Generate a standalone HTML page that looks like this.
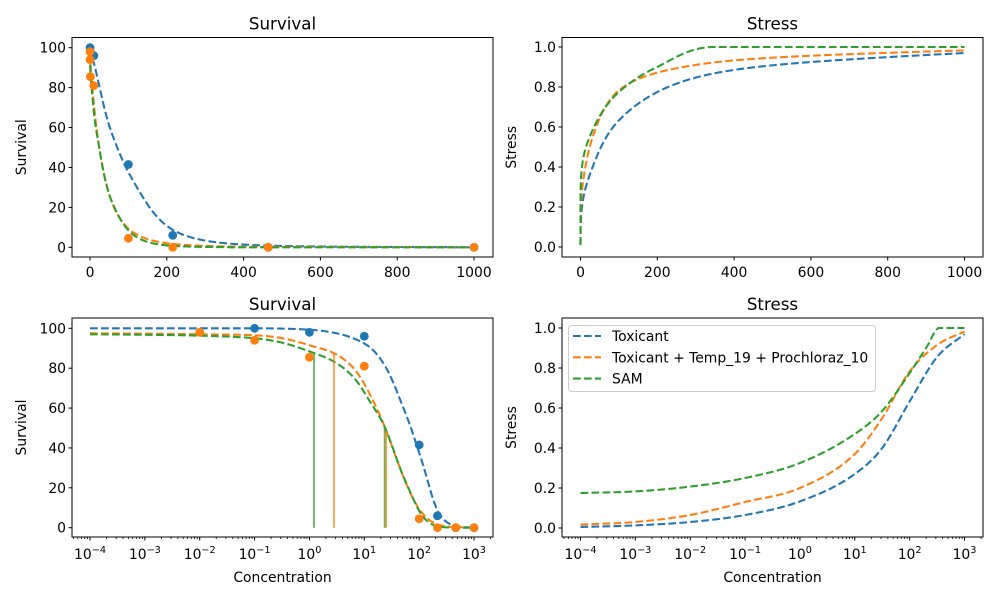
<!DOCTYPE html>
<html><head><meta charset="utf-8">
<style>
html,body{margin:0;padding:0;background:#fff;}
svg{display:block;font-family:"DejaVu Sans","Liberation Sans",sans-serif;}
</style></head>
<body>
<svg id="fig" width="1000" height="600" viewBox="0 0 1000 600"></svg>
<script>
// ---- data ----
const blueConc = [0.1, 1, 10, 100, 215.4, 464.2, 1000];
const blueSurv = [100, 98, 96, 41.5, 6, 0, 0];
const orangeConc = [0.01, 0.1, 1, 10, 100, 215.4, 464.2, 1000];
const orangeSurv = [98, 94, 85.5, 81, 4.5, 0, 0, 0];

const survLogC = [-4, -2, -1, 0, 0.44, 0.80, 1.10, 1.38, 1.65, 1.90, 2.14, 2.38, 2.62, 3];
const survToxicant = [100, 100, 100, 99.3, 97.8, 95, 90.5, 81, 64.4, 46, 25, 6.5, 1.2, 0];
const survCombined = [97.5, 97, 96.5, 91.5, 87.6, 80.1, 67, 50, 30, 14, 4.9, 1.3, 0.3, 0];
const survSAM = [97, 96.3, 95, 88.4, 83.4, 75.5, 63.4, 50, 30, 14, 3.5, 0.5, 0.05, 0];
const survTop = [100.3, 97.8, 97.3];

const stressLogC = [-4, -3, -2, -1, 0, 1, 1.5, 2, 2.5, 3];
const stressToxicant = [0.005, 0.013, 0.03, 0.065, 0.133, 0.27, 0.40, 0.633, 0.855, 0.97];
const stressCombined = [0.017, 0.03, 0.065, 0.13, 0.2, 0.37, 0.55, 0.783, 0.915, 0.983];
const samLogC = [-4, -3, -2, -1, 0, 1, 1.5, 2, 2.3, 2.54, 3];
const stressSAM = [0.175, 0.183, 0.207, 0.25, 0.325, 0.47, 0.585, 0.775, 0.9, 1.0, 1.0];
const zeroConcStress = 0.01;

const lcGreenConc = [1.21, 23.5];
const lcOrangeConc = [2.8, 25];

const survTicks = [0, 20, 40, 60, 80, 100];
const stressTicks = [0, 0.2, 0.4, 0.6, 0.8, 1.0];
const stressTickLabels = ["0.0","0.2","0.4","0.6","0.8","1.0"];
const linTicks = [0, 200, 400, 600, 800, 1000];
const logTicks = [-4, -3, -2, -1, 0, 1, 2, 3];

const C_BLUE = "#1f77b4", C_ORANGE = "#ff7f0e", C_GREEN = "#2ca02c";
const NS = "http://www.w3.org/2000/svg";
const svg = document.getElementById('fig');

function el(tag, attrs, parent) {
  const e = document.createElementNS(NS, tag);
  for (const k in attrs) e.setAttribute(k, attrs[k]);
  (parent || svg).appendChild(e);
  return e;
}

function mono(xs, ys) {
  const n = xs.length, d = [], m = new Array(n);
  for (let i = 0; i < n - 1; i++) d.push((ys[i+1]-ys[i])/(xs[i+1]-xs[i]));
  m[0] = d[0]; m[n-1] = d[n-2];
  for (let i = 1; i < n - 1; i++) m[i] = (d[i-1]*d[i] <= 0) ? 0 : (d[i-1]+d[i])/2;
  for (let i = 0; i < n - 1; i++) {
    if (d[i] === 0) { m[i] = 0; m[i+1] = 0; continue; }
    const a = m[i]/d[i], b = m[i+1]/d[i], s = a*a + b*b;
    if (s > 9) { const t = 3/Math.sqrt(s); m[i] = t*a*d[i]; m[i+1] = t*b*d[i]; }
  }
  return function(x) {
    if (x <= xs[0]) return ys[0];
    if (x >= xs[n-1]) return ys[n-1];
    let i = 0; while (x > xs[i+1]) i++;
    const h = xs[i+1]-xs[i], t = (x-xs[i])/h;
    const h00 = 2*t*t*t-3*t*t+1, h10 = t*t*t-2*t*t+t, h01 = -2*t*t*t+3*t*t, h11 = t*t*t-t*t;
    return h00*ys[i] + h10*h*m[i] + h01*ys[i+1] + h11*h*m[i+1];
  };
}
function logit(p) { p = Math.min(0.9995, Math.max(0.0008, p)); return Math.log(p/(1-p)); }
function expit(z) { return 1/(1+Math.exp(-z)); }
function smoothFn(xs, ys, top) {
  const f = mono(xs, ys.map(v => logit(v/top)));
  return function(x) {
    let p = expit(f(x));
    if (p > 0.9985) p = 1;
    if (p < 0.001) p = 0;
    return Math.min(1, p) * top;
  };
}
function rawFn(xs, ys) {
  const f = mono(xs, ys);
  return x => Math.min(1, Math.max(0, f(x)));
}

const axes = {
  tl: {l:72, r:493, t:37.5, b:257, x: c => 90 + c*0.384, y: v => 247.3 - v*1.996, log:false},
  tr: {l:562, r:983, t:37.5, b:257, x: c => 580.5 + c*0.384, y: v => 247 - v*200, log:false},
  bl: {l:72, r:493, t:318, b:537, x: c => 90 + (Math.log10(c)+4)*54.86, y: v => 527.7 - v*1.994, log:true},
  br: {l:562, r:983, t:318, b:537, x: c => 580.5 + (Math.log10(c)+4)*54.86, y: v => 528 - v*200, log:true}
};

const defs = el('defs', {});
for (const k in axes) {
  const cp = el('clipPath', {id: 'clip-'+k}, defs);
  const a = axes[k];
  el('rect', {x: a.l, y: a.t, width: a.r-a.l, height: a.b-a.t}, cp);
}

function curvePath(ax, fn, isLin, zeroVal) {
  const pts = [];
  if (isLin) {
    const N = 600;
    for (let i = 0; i <= N; i++) {
      const c = 1000*Math.pow(i/N, 2);
      let v;
      if (c === 0) v = (zeroVal !== undefined) ? zeroVal : fn(-4);
      else v = fn(Math.max(-4, Math.log10(c)));
      pts.push([ax.x(c), ax.y(v)]);
    }
  } else {
    const N = 500;
    for (let i = 0; i <= N; i++) {
      const lc = -4 + 7*i/N;
      pts.push([ax.x(Math.pow(10, lc)), ax.y(fn(lc))]);
    }
  }
  return 'M' + pts.map(p => p[0].toFixed(2)+','+p[1].toFixed(2)).join('L');
}

function drawCurve(key, fn, color, name, zeroVal) {
  const ax = axes[key];
  const p = el('path', {d: curvePath(ax, fn, !ax.log, zeroVal), fill:'none', stroke: color,
    'stroke-width': 2.08, 'stroke-dasharray': '7.7 3.3', 'clip-path': 'url(#clip-'+key+')'});
  
  
}

function drawPoints(key, xs, ys, color, name) {
  const ax = axes[key];
  const g = el('g', {'clip-path': 'url(#clip-'+key+')'});
  
  
  for (let i = 0; i < xs.length; i++) {
    const c = el('circle', {cx: ax.x(xs[i]), cy: ax.y(ys[i]), r: 4.4, fill: color}, g);
    
    
  }
}

function text(x, y, s, attrs, name) {
  const t = el('text', Object.assign({x: x, y: y, 'font-size': 13.9, fill: '#000'}, attrs || {}));
  t.textContent = s;
  
  
  return t;
}

function frame(key, title, ylabel, yTicks, yLabels, xlabel) {
  const ax = axes[key];
  const g = el('g', {});
  
  
  el('rect', {x: ax.l, y: ax.t, width: ax.r-ax.l, height: ax.b-ax.t, fill:'none', stroke:'#000', 'stroke-width': 1}, g);
  yTicks.forEach((v, i) => {
    const y = ax.y(v);
    el('line', {x1: ax.l-3.5, x2: ax.l, y1: y, y2: y, stroke:'#000', 'stroke-width': 1}, g);
    text(ax.l-6, y+5, yLabels[i], {'text-anchor':'end'}, 'y-tick-label');
  });
  if (!ax.log) {
    linTicks.forEach(v => {
      const x = ax.x(v);
      el('line', {x1: x, x2: x, y1: ax.b, y2: ax.b+3.5, stroke:'#000', 'stroke-width': 1}, g);
      text(x, ax.b+20, String(v), {'text-anchor':'middle'}, 'x-tick-label');
    });
  } else {
    for (let e = -5; e <= 3; e++) for (let k = 2; k <= 9; k++) {
      const x = ax.x(k*Math.pow(10, e));
      if (x < ax.l || x > ax.r) continue;
      el('line', {x1: x, x2: x, y1: ax.b, y2: ax.b+2, stroke:'#000', 'stroke-width': 0.8}, g);
    }
    logTicks.forEach(e => {
      const x = ax.x(Math.pow(10, e));
      el('line', {x1: x, x2: x, y1: ax.b, y2: ax.b+3.5, stroke:'#000', 'stroke-width': 1}, g);
      const t = text(x, ax.b+22, '', {'text-anchor':'middle'}, 'x-tick-label');
      const a = el('tspan', {}, t); a.textContent = '10';
      const b = el('tspan', {dy: -6, 'font-size': 9.7}, t); b.textContent = (e < 0 ? '\u2212' : '') + Math.abs(e);
    });
  }
  const cx = (ax.l+ax.r)/2;
  text(cx, ax.t-8, title, {'text-anchor':'middle', 'font-size': 16.7}, 'subplot-title');
  const ylx = ax.l - 46;
  const cy = (ax.t+ax.b)/2;
  text(ylx, cy, ylabel, {'text-anchor':'middle', transform: 'rotate(-90 '+ylx+' '+cy+')'}, 'y-axis-title');
  if (xlabel) text(cx, ax.b+45, xlabel, {'text-anchor':'middle'}, 'x-axis-title');
}

const fSurvT = smoothFn(survLogC, survToxicant, survTop[0]);
const fSurvC = smoothFn(survLogC, survCombined, survTop[1]);
const fSurvS = smoothFn(survLogC, survSAM, survTop[2]);
const fStrT = rawFn(stressLogC, stressToxicant);
const fStrC = rawFn(stressLogC, stressCombined);
const fStrS = rawFn(samLogC, stressSAM);

const survLbl = survTicks.map(String);
frame('tl', 'Survival', 'Survival', survTicks, survLbl, null);
frame('tr', 'Stress', 'Stress', stressTicks, stressTickLabels, null);
frame('bl', 'Survival', 'Survival', survTicks, survLbl, 'Concentration');
frame('br', 'Stress', 'Stress', stressTicks, stressTickLabels, 'Concentration');

drawCurve('tl', fSurvT, C_BLUE, 'toxicant-survival-curve');
drawCurve('tl', fSurvC, C_ORANGE, 'combined-survival-curve');
drawCurve('tl', fSurvS, C_GREEN, 'sam-survival-curve');
drawPoints('tl', blueConc, blueSurv, C_BLUE, 'toxicant-observations');
drawPoints('tl', orangeConc, orangeSurv, C_ORANGE, 'combined-observations');

drawCurve('tr', fStrT, C_BLUE, 'toxicant-stress-curve', zeroConcStress);
drawCurve('tr', fStrC, C_ORANGE, 'combined-stress-curve', zeroConcStress);
drawCurve('tr', fStrS, C_GREEN, 'sam-stress-curve', zeroConcStress);

drawCurve('bl', fSurvT, C_BLUE, 'toxicant-survival-curve-log');
drawCurve('bl', fSurvC, C_ORANGE, 'combined-survival-curve-log');
drawCurve('bl', fSurvS, C_GREEN, 'sam-survival-curve-log');
(function(){
  const ax = axes.bl;
  lcGreenConc.forEach(c => {
    const l = el('line', {x1: ax.x(c), x2: ax.x(c), y1: ax.y(0), y2: ax.y(fSurvS(Math.log10(c))), stroke: C_GREEN, 'stroke-opacity': 0.75, 'stroke-width': 1.8});
    
    
  });
  lcOrangeConc.forEach(c => {
    const l = el('line', {x1: ax.x(c), x2: ax.x(c), y1: ax.y(0), y2: ax.y(fSurvC(Math.log10(c))), stroke: C_ORANGE, 'stroke-opacity': 0.75, 'stroke-width': 1.8});
    
    
  });
})();
drawPoints('bl', blueConc, blueSurv, C_BLUE, 'toxicant-observations-log');
drawPoints('bl', orangeConc, orangeSurv, C_ORANGE, 'combined-observations-log');

drawCurve('br', fStrT, C_BLUE, 'toxicant-stress-curve-log');
drawCurve('br', fStrC, C_ORANGE, 'combined-stress-curve-log');
drawCurve('br', fStrS, C_GREEN, 'sam-stress-curve-log');

(function(){
  const g = el('g', {});
  
  
  el('rect', {x: 568.5, y: 325.5, width: 307, height: 66, rx: 3, fill: '#fff', 'fill-opacity': 0.8, stroke: '#ccc', 'stroke-width': 1}, g);
  const entries = [['Toxicant', C_BLUE], ['Toxicant + Temp_19 + Prochloraz_10', C_ORANGE], ['SAM', C_GREEN]];
  entries.forEach((e, i) => {
    const y = 336 + i*21.3;
    const ln = el('line', {x1: 573, x2: 601, y1: y, y2: y, stroke: e[1], 'stroke-width': 2.08, 'stroke-dasharray': '7.7 3.3'}, g);
    
    
    const t = text(612, y+5, e[0], {}, 'legend-entry');
    g.appendChild(t);
  });
})();
</script>
</body></html>
